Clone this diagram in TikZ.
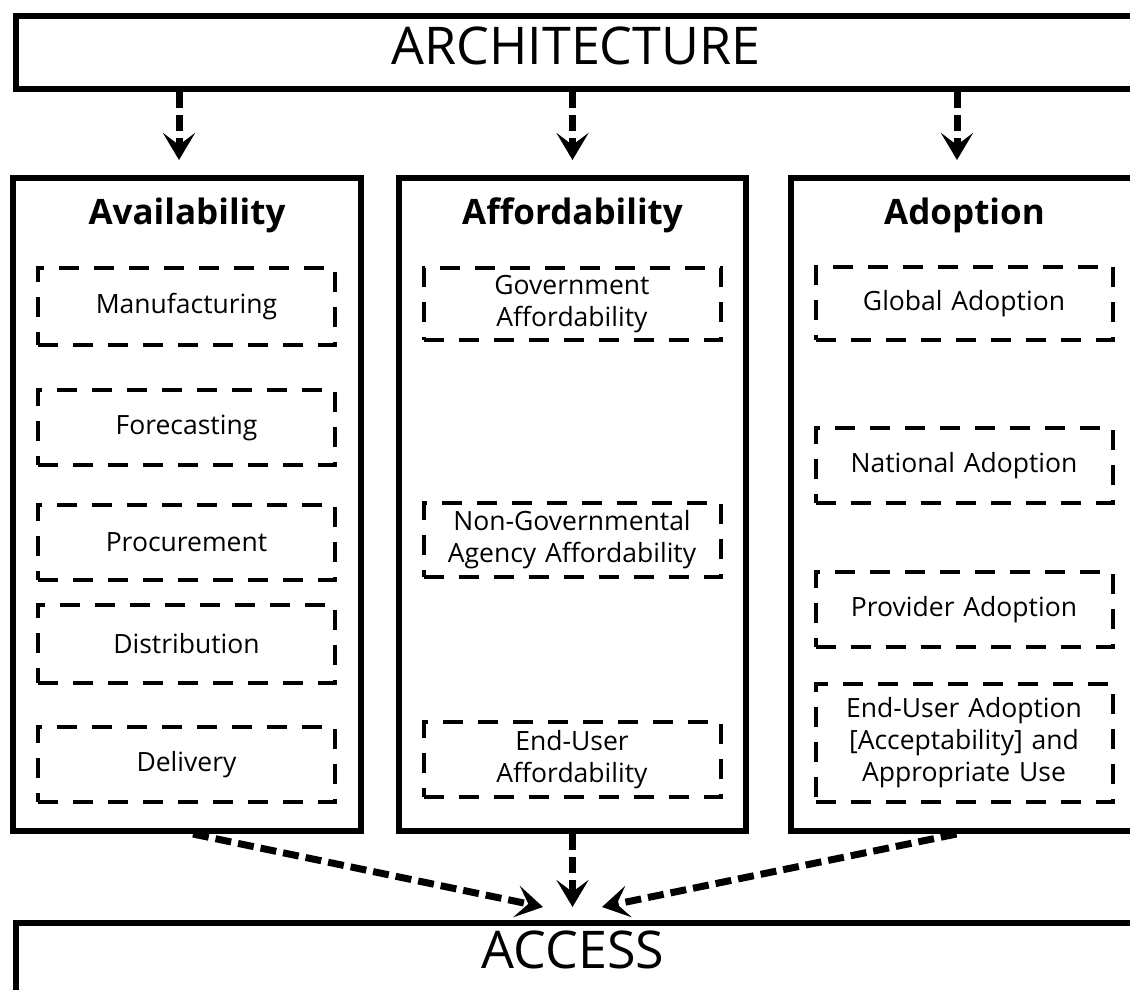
\documentclass[tikz,border=0pt]{standalone}
\usepackage{fontspec}
\setmainfont{Open Sans}
\usetikzlibrary{arrows.meta}
\begin{document}
\begin{tikzpicture}[
    x=1pt, y=-1pt,
    bigbox/.style={draw, line width=6pt, inner sep=0pt},
    bigtext/.style={font=\fontsize{52}{58}\selectfont},
    colbox/.style={draw, line width=6pt, minimum height=653pt, inner sep=0pt},
    coltitle/.style={font=\fontsize{35}{40}\selectfont\bfseries},
    subbox/.style={draw, line width=4pt, dash pattern=on 20pt off 15pt,
        minimum width=297pt, text width=295pt, align=center, inner sep=0pt,
        font=\fontsize{26.5}{32}\selectfont},
    arr/.style={line width=7pt, dash pattern=on 16pt off 7pt,
        -{Stealth[length=27pt, width=32pt, inset=12pt]}}
    ]
    \useasboundingbox (0,0) rectangle (1130,990);
    \clip (0,0) rectangle (1130,990);
	\node [bigbox, minimum width=1118pt, minimum height=73pt] (arch) at (575,52.5) {};
	\node [bigtext] (archlbl) at (576,46) {ARCHITECTURE};
	\node [colbox, minimum width=348pt] (avail) at (187,504.5) {};
	\node [colbox, minimum width=347pt] (afford) at (572.5,504.5) {};
	\node [colbox, minimum width=347pt] (adopt) at (964.5,504.5) {};
	\node [coltitle] (availT) at (187,215) {Availability};
	\node [coltitle] (affordT) at (572.5,215) {Affordability};
	\node [coltitle] (adoptT) at (964.5,215) {Adoption};
	\node [subbox, minimum height=77pt] (manu) at (186.5,306.5) {Manufacturing};
	\node [subbox, minimum height=75pt] (fore) at (186.5,427.5) {Forecasting};
	\node [subbox, minimum height=75pt] (proc) at (186.5,542.5) {Procurement};
	\node [subbox, minimum height=78pt] (dist) at (186.5,644) {Distribution};
	\node [subbox, minimum height=75pt] (deli) at (186.5,764.5) {Delivery};
	\node [subbox, minimum height=72pt] (govt) at (572,304) {Government\\Affordability};
	\node [subbox, minimum height=74pt] (ngo) at (572,540) {Non-Governmental\\Agency Affordability};
	\node [subbox, minimum height=75pt] (enduA) at (572,759.5) {End-User\\Affordability};
	\node [subbox, minimum height=73pt] (glob) at (964,303.5) {Global Adoption};
	\node [subbox, minimum height=75pt] (natl) at (964,465.5) {National Adoption};
	\node [subbox, minimum height=75pt] (prov) at (964,609.5) {Provider Adoption};
	\node [subbox, minimum height=118pt] (enduB) at (964,743) {End-User Adoption\\{}[Acceptability] and\\Appropriate Use};
	\node [bigbox, minimum width=1121pt, minimum height=90pt, anchor=north west] (access) at (13,920) {};
	\node [bigtext] (accesslbl) at (573,950) {ACCESS};
	\coordinate (tipL) at (543,907);
	\coordinate (tipM) at (572.5,907);
	\coordinate (tipR) at (602,907);
	\draw [arr] (arch.south -| 179,0) -- ([yshift=15pt]avail.north -| 179,0);
	\draw [arr] (arch.south -| afford.north) -- ([yshift=15pt]afford.north);
	\draw [arr] (arch.south -| 957,0) -- ([yshift=15pt]adopt.north -| 957,0);
	\draw [arr] ([xshift=6pt]avail.south) -- (tipL);
	\draw [arr] (afford.south) -- (tipM);
	\draw [arr] ([xshift=-8pt]adopt.south) -- (tipR);
\end{tikzpicture}
\end{document}
